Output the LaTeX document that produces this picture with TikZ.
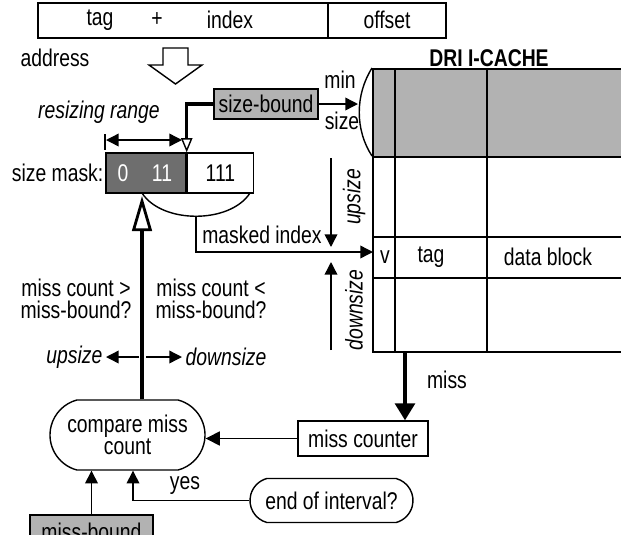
\documentclass[tikz,border=0pt]{standalone}
\usepackage{fontspec}
\setmainfont{Liberation Sans}[FakeStretch=0.8]
\usetikzlibrary{arrows.meta,shapes.misc}
\definecolor{lightgrey}{gray}{0.70}
\definecolor{darkgrey}{gray}{0.43}
\def\px{0.025cm}
\tikzset{
  every node/.style={font=\fontsize{17.2}{16}\selectfont, inner sep=0pt},
  ital/.style={font=\fontsize{17.2}{16}\selectfont\itshape},
  box/.style={draw, line width=1pt, inner sep=0pt},
  graybox/.style={box, fill=lightgrey},
  pill/.style={draw, line width=1pt, rounded rectangle, rounded rectangle arc length=150, align=center},
  arr/.style={-{Triangle[length=9pt,width=9pt]}},
  thickline/.style={line width=2.5pt},
}

\begin{document}
\begin{tikzpicture}[x=0.025cm, y=-0.025cm, line width=1pt]
			%%%%% START %%%%%
			\useasboundingbox (0,0) rectangle (621,535);
			\clip (0,0) rectangle (621,535);
			
			% address
			\draw (38,3) rectangle (446,38);
			\draw (328,3) -- (328,38);
			\node (tagfld) at (100,20) {tag};
			\node (plusfld) at (157,20) {+};
			\node (idxfld) at (230,20) {index};
			\node (offfld) at (387,20) {offset};
			\node (addrlbl) at (55,58) {address};
			\draw[fill=white] (163,48) -- (188,48) -- (188,65) -- (202,65) -- (175.5,84) -- (149,65) -- (163,65) -- cycle;
			
			% size mask
			\node[box, fill=darkgrey, minimum width=80*\px, minimum height=40*\px] (maskhi) at (146,173) {};
			\node[box, minimum width=66*\px, minimum height=40*\px, anchor=west] (masklo) at (maskhi.east) {111};
			\node[text=white] (bitzero) at (123,173) {0};
			\node[text=white] (bitones) at (162,173) {11};
			\node[anchor=east] (masklbl) at (104,173) {size mask:};
			
			\draw[line width=2pt] (105,134) -- (105,150);
			\coordinate (rngL) at (106,140);
			\coordinate (rngR) at (182,140);
			\draw[{Triangle[length=9pt,width=9pt]}-{Triangle[length=9pt,width=9pt]}] (rngL) -- (rngR);
			\node[ital] (rnglbl) at (99,112) {resizing range};
			
			\node[graybox, minimum width=104*\px, minimum height=30*\px] (sizebound) at (266,104) {size-bound};
			\draw[thickline, -{Triangle[open,length=10pt,width=8pt,line width=1pt]}] (sizebound.west) -| (maskhi.north east);
			\coordinate (minsize) at (358,104);
			\draw[arr] (sizebound.east) -- (minsize);
			\node (minlbl) at (340,80) {min};
			\node (sizelbl) at (342,121) {size};
			
			% cache
			\fill[lightgrey] (373,69) rectangle (630,157);
			\draw (630,69) -- (373,69) -- (373,352) -- (630,352);
			\draw[line width=2pt] (373,157) -- (630,157);
			\draw (373,237) -- (630,237);
			\draw (373,278) -- (630,278);
			\draw[line width=1.3pt] (395,69) -- (395,352);
			\draw[line width=1.3pt] (487,69) -- (487,352);
			\draw (372,68) .. controls (355,95) and (355,130) .. (372,156);
			\node[font=\fontsize{17.2}{16}\selectfont\bfseries] (cachettl) at (489,58) {DRI I-CACHE};
			\node (vfld) at (385,257) {v};
			\node (tagcol) at (431,257) {tag};
			\node (datacol) at (548,257) {data block};
			
			% masked index
			\coordinate (arcL) at (142,193);
			\coordinate (arcR) at (250,193);
			\coordinate (arcB) at (196,216);
			\draw (arcL) .. controls (162,224) and (230,224) .. (arcR);
			\coordinate (rowin) at (373,252);
			\draw[arr] (arcB) |- (rowin);
			\node (mskidx) at (262,235) {masked index};
			\coordinate (upA) at (331,158);
			\coordinate (upB) at (331,247);
			\coordinate (dnA) at (331,350);
			\coordinate (dnB) at (331,262);
			\draw[arr] (upA) -- (upB);
			\draw[arr] (dnA) -- (dnB);
			\node[ital, rotate=90] (uplbl) at (354,197) {upsize};
			\node[ital, rotate=90] (dnlbl) at (354,310) {downsize};
			
			% compare
			\node[pill, minimum width=155*\px, minimum height=70*\px] (compare) at (127.5,435) {compare miss\\count};
			\node[box, minimum width=130*\px, minimum height=35*\px] (counter) at (363,438.5) {miss counter};
			\node[pill, minimum width=163*\px, minimum height=44*\px] (endint) at (331.5,500.5) {end of interval?};
			\node[graybox, minimum width=123*\px, minimum height=34*\px] (missbound) at (91.5,532) {miss-bound};
			
			\coordinate (maskbot) at (142,196);
			\draw[thickline, -{Triangle[open,length=25pt,width=14pt,line width=2pt]}] (compare.north -| maskbot) -- (maskbot);
			\node[align=center] (gtlbl) at (76,299) {miss count >\\miss-bound?};
			\node[align=center] (ltlbl) at (211,299) {miss count <\\miss-bound?};
			\coordinate (udL) at (139,357);
			\coordinate (udR) at (146,357);
			\draw[arr] (udL) -- (106,357);
			\draw[arr] (udR) -- (182,357);
			\node[ital, anchor=east] (upszlbl) at (103,357) {upsize};
			\node[ital, anchor=west] (dnszlbl) at (185,357) {downsize};
			
			\coordinate (misssrc) at (405,352);
			\draw[thickline, -{Triangle[length=12pt,width=14pt]}] (misssrc) -- (misssrc |- counter.north);
			\node (misslbl) at (447,380) {miss};
			\draw[-{Triangle[length=10pt,width=10pt]}] (counter.west) -- (counter.west -| compare.east);
			\coordinate (yesx) at (133,0);
			\draw[arr] (endint.west) -| (compare.south -| yesx);
			\node (yeslbl) at (185,485) {yes};
			\draw[arr] (missbound.north) -- (missbound.north |- compare.south);
			%%%%% END %%%%%
\end{tikzpicture}
\end{document}
